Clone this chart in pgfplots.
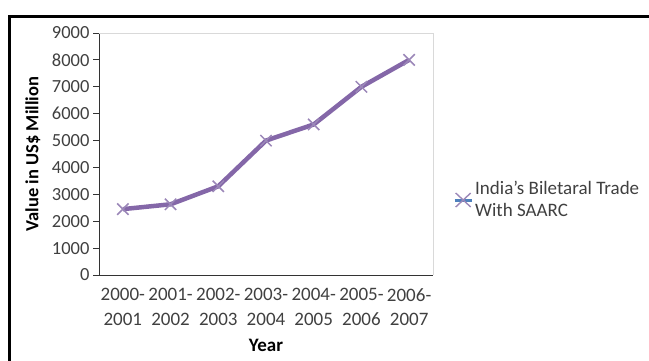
\documentclass[border=0pt]{standalone}
\usepackage{fontspec}
\setmainfont{Carlito}
\usepackage{pgfplots}
\pgfplotsset{compat=1.18}
\definecolor{linepurple}{HTML}{8467A8}
\definecolor{markpurple}{HTML}{9B87B8}
\definecolor{legblue}{HTML}{4F81BD}
\definecolor{txt}{HTML}{404040}
\begin{document}
\begin{tikzpicture}[x=1pt,y=1pt]
\useasboundingbox (0,0) rectangle (649,-360);
\fill[black] (8,-14.5) rectangle (660,-17.5);
\fill[black] (8,-14.5) rectangle (11,-370);
\begin{axis}[
  at={(99pt,-275pt)}, anchor=south west,
  scale only axis, width=334pt, height=242pt,
  xmin=-0.5, xmax=6.5, ymin=0, ymax=9000,
  axis lines*=left,
  axis line style={black!80, line width=1pt},
  tick align=outside,
  xtick={0,...,6},
  xticklabels={{2000-\\2001},{2001-\\2002},{2002-\\2003},{2003-\\2004},{2004-\\2005},{2005-\\2006},{2006-\\2007}},
  xticklabel style={align=center, text=txt, font=\fontsize{19}{24.5}\selectfont, yshift=-4pt},
  x tick style={draw=none},
  minor xtick={-0.5,0.5,...,6.5},
  minor x tick style={black!80, line width=1pt},
  minor tick length=6pt,
  ytick={0,1000,...,9000},
  y tick style={black!80, line width=1pt},
  major tick length=6pt,
  yticklabel style={text=txt, font=\fontsize{18.5}{20}\selectfont},
  /pgf/number format/assume math mode=true,
  /pgf/number format/1000 sep={},
  scaled y ticks=false,
  xlabel={\bfseries Year},
  xlabel style={font=\fontsize{19}{20}\selectfont, yshift=-6pt},
  legend style={at={(1,0.5)}, anchor=west, xshift=20pt, yshift=-46pt, draw=none, fill=none,
    font=\fontsize{19}{22}\selectfont, align=left, inner sep=0pt, text=txt},
  legend cell align=left,
  legend image code/.code={
    \draw[legblue, line width=3pt] (0pt,0pt) -- (17pt,0pt);
    \draw[markpurple, line width=1.4pt] (1pt,-7pt) -- (16pt,7pt) (1pt,7pt) -- (16pt,-7pt);
  },
  clip=false,
]
\draw[black!15, line width=1pt] (rel axis cs:0,1) -- (rel axis cs:1,1) -- (rel axis cs:1,0);
\addplot[linepurple, line width=4.5pt, mark=x, mark size=8pt,
  mark options={markpurple, line width=1.5pt}]
  coordinates {(0,2450) (1,2630) (2,3300) (3,5000) (4,5600) (5,7000) (6,8000)};
\addlegendentry{India's Biletaral Trade\\With SAARC}
\node[rotate=90, font=\fontsize{18.5}{20}\selectfont\bfseries] at (axis description cs:-0.198,0.5) {Value in US\$ Million};
\end{axis}
\end{tikzpicture}
\end{document}
